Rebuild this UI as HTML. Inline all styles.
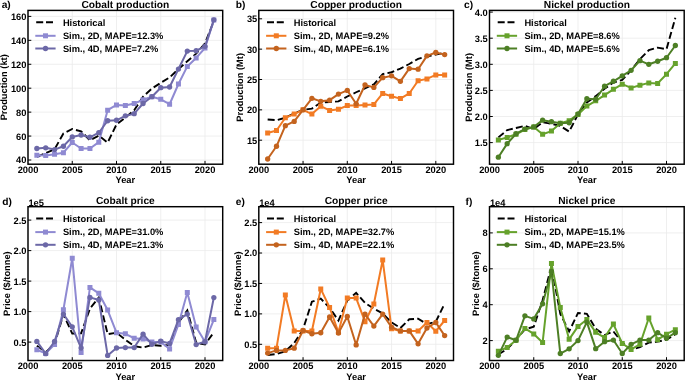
<!DOCTYPE html><html><head><meta charset="utf-8"><style>
html,body{margin:0;padding:0;background:#fff;width:685px;height:380px;overflow:hidden}
svg{display:block;will-change:transform;filter:blur(0.25px)}text{font-family:"Liberation Sans",sans-serif;font-weight:bold;fill:#000;text-rendering:geometricPrecision}
</style></head><body>
<svg width="685" height="380" viewBox="0 0 685 380">
<clipPath id="ca"><rect x="28" y="10.4" width="194.7" height="153.8"/></clipPath>
<path d="M28 10.4V164.2M72.25 10.4V164.2M116.5 10.4V164.2M160.75 10.4V164.2M205 10.4V164.2M28 160H222.7M28 136.07H222.7M28 112.14H222.7M28 88.2H222.7M28 64.27H222.7M28 40.33H222.7M28 16.4H222.7" stroke="#ebebeb" stroke-width="0.8" fill="none"/>
<g clip-path="url(#ca)">
<polyline points="36.85,156.77 45.7,153.06 54.55,149.23 63.4,133.56 72.25,129.01 81.1,131.28 89.95,140.26 98.8,135.71 107.65,142.53 116.5,124.46 125.35,117.52 134.2,110.22 143.05,96.7 151.9,88.56 160.75,82.82 169.6,77.43 178.45,69.05 187.3,61.28 196.15,53.62 205,43.33 213.85,21.19" fill="none" stroke="#000" stroke-width="1.9" stroke-dasharray="7 3.2"/>
<polyline points="36.85,155.22 45.7,155.46 54.55,154.14 63.4,152.7 72.25,142.53 81.1,148.52 89.95,148.52 98.8,142.17 107.65,110.22 116.5,104.96 125.35,105.43 134.2,103.52 143.05,99.81 151.9,96.7 160.75,99.33 169.6,104.24 178.45,84.01 187.3,66.42 196.15,57.93 205,47.99 213.85,19.99" fill="none" stroke="#8f8ad2" stroke-width="2" stroke-linejoin="round"/>
<path d="M34.35 152.72h5v5h-5zM43.2 152.96h5v5h-5zM52.05 151.64h5v5h-5zM60.9 150.2h5v5h-5zM69.75 140.03h5v5h-5zM78.6 146.02h5v5h-5zM87.45 146.02h5v5h-5zM96.3 139.67h5v5h-5zM105.15 107.72h5v5h-5zM114 102.46h5v5h-5zM122.85 102.93h5v5h-5zM131.7 101.02h5v5h-5zM140.55 97.31h5v5h-5zM149.4 94.2h5v5h-5zM158.25 96.83h5v5h-5zM167.1 101.74h5v5h-5zM175.95 81.51h5v5h-5zM184.8 63.92h5v5h-5zM193.65 55.43h5v5h-5zM202.5 45.49h5v5h-5zM211.35 17.49h5v5h-5z" fill="#8f8ad2"/>
<polyline points="36.85,148.52 45.7,147.8 54.55,149.59 63.4,146.24 72.25,136.91 81.1,134.99 89.95,137.27 98.8,132.72 107.65,120.75 116.5,120.27 125.35,115.85 134.2,113.69 143.05,103.52 151.9,96.7 160.75,87.72 169.6,87.01 178.45,69.05 187.3,51.1 196.15,50.75 205,46.32 213.85,19.87" fill="none" stroke="#6c68a7" stroke-width="2" stroke-linejoin="round"/>
<circle cx="36.85" cy="148.52" r="2.65" fill="#6c68a7"/>
<circle cx="45.7" cy="147.8" r="2.65" fill="#6c68a7"/>
<circle cx="54.55" cy="149.59" r="2.65" fill="#6c68a7"/>
<circle cx="63.4" cy="146.24" r="2.65" fill="#6c68a7"/>
<circle cx="72.25" cy="136.91" r="2.65" fill="#6c68a7"/>
<circle cx="81.1" cy="134.99" r="2.65" fill="#6c68a7"/>
<circle cx="89.95" cy="137.27" r="2.65" fill="#6c68a7"/>
<circle cx="98.8" cy="132.72" r="2.65" fill="#6c68a7"/>
<circle cx="107.65" cy="120.75" r="2.65" fill="#6c68a7"/>
<circle cx="116.5" cy="120.27" r="2.65" fill="#6c68a7"/>
<circle cx="125.35" cy="115.85" r="2.65" fill="#6c68a7"/>
<circle cx="134.2" cy="113.69" r="2.65" fill="#6c68a7"/>
<circle cx="143.05" cy="103.52" r="2.65" fill="#6c68a7"/>
<circle cx="151.9" cy="96.7" r="2.65" fill="#6c68a7"/>
<circle cx="160.75" cy="87.72" r="2.65" fill="#6c68a7"/>
<circle cx="169.6" cy="87.01" r="2.65" fill="#6c68a7"/>
<circle cx="178.45" cy="69.05" r="2.65" fill="#6c68a7"/>
<circle cx="187.3" cy="51.1" r="2.65" fill="#6c68a7"/>
<circle cx="196.15" cy="50.75" r="2.65" fill="#6c68a7"/>
<circle cx="205" cy="46.32" r="2.65" fill="#6c68a7"/>
<circle cx="213.85" cy="19.87" r="2.65" fill="#6c68a7"/>
</g>
<path d="M72.25 164.2v-3.3M116.5 164.2v-3.3M160.75 164.2v-3.3M205 164.2v-3.3M28 160h3.3M28 136.07h3.3M28 112.14h3.3M28 88.2h3.3M28 64.27h3.3M28 40.33h3.3M28 16.4h3.3" stroke="#000" stroke-width="1" fill="none"/>
<rect x="28" y="10.4" width="194.7" height="153.8" fill="none" stroke="#000" stroke-width="1.45"/>
<text x="28" y="172.8" font-size="9.3" text-anchor="middle">2000</text>
<text x="72.25" y="172.8" font-size="9.3" text-anchor="middle">2005</text>
<text x="116.5" y="172.8" font-size="9.3" text-anchor="middle">2010</text>
<text x="160.75" y="172.8" font-size="9.3" text-anchor="middle">2015</text>
<text x="205" y="172.8" font-size="9.3" text-anchor="middle">2020</text>
<text x="26.4" y="163.45" font-size="9.3" text-anchor="end">40</text>
<text x="26.4" y="139.52" font-size="9.3" text-anchor="end">60</text>
<text x="26.4" y="115.59" font-size="9.3" text-anchor="end">80</text>
<text x="26.4" y="91.65" font-size="9.3" text-anchor="end">100</text>
<text x="26.4" y="67.72" font-size="9.3" text-anchor="end">120</text>
<text x="26.4" y="43.78" font-size="9.3" text-anchor="end">140</text>
<text x="26.4" y="19.85" font-size="9.3" text-anchor="end">160</text>
<text x="125.35" y="183.4" font-size="9.3" text-anchor="middle">Year</text>
<text transform="translate(6.9 87.3) rotate(-90)" font-size="9.3" text-anchor="middle">Production (kt)</text>
<text x="125.35" y="7.8" font-size="10.2" text-anchor="middle">Cobalt production</text>
<text x="1.7" y="8.3" font-size="10.2">a)</text>
<path d="M36.2 22.3h18.5" stroke="#000" stroke-width="2" stroke-dasharray="7 2.8" fill="none"/>
<path d="M35.3 35.8h20.3" stroke="#8f8ad2" stroke-width="2" fill="none"/>
<rect x="43" y="33.3" width="5" height="5" fill="#8f8ad2"/>
<path d="M35.3 48.5h20.3" stroke="#6c68a7" stroke-width="2" fill="none"/>
<circle cx="45.5" cy="48.5" r="2.65" fill="#6c68a7"/>
<text x="62.9" y="25.8" font-size="9.3">Historical</text>
<text x="62.9" y="38.9" font-size="9.3">Sim., 2D, MAPE=12.3%</text>
<text x="62.9" y="51.7" font-size="9.3">Sim., 4D, MAPE=7.2%</text>
<clipPath id="cb"><rect x="258.8" y="10.4" width="194.7" height="153.8"/></clipPath>
<path d="M258.8 10.4V164.2M303.05 10.4V164.2M347.3 10.4V164.2M391.55 10.4V164.2M435.8 10.4V164.2M258.8 140.2H453.5M258.8 109.85H453.5M258.8 79.5H453.5M258.8 49.15H453.5M258.8 18.8H453.5" stroke="#ebebeb" stroke-width="0.8" fill="none"/>
<g clip-path="url(#cb)">
<polyline points="267.65,119.56 276.5,120.17 285.35,117.74 294.2,113.49 303.05,109.85 311.9,108.64 320.75,102.57 329.6,101.96 338.45,101.35 347.3,96.5 356.15,92.25 365,88.3 373.85,84.36 382.7,74.04 391.55,72.22 400.4,68.57 409.25,64.02 418.1,58.86 426.95,56.43 435.8,54.61 444.65,52.79" fill="none" stroke="#000" stroke-width="1.9" stroke-dasharray="7 3.2"/>
<polyline points="267.65,132.92 276.5,130.49 285.35,117.74 294.2,114.1 303.05,109.85 311.9,114.1 320.75,106.21 329.6,110.46 338.45,109.24 347.3,105.6 356.15,105.6 365,104.99 373.85,104.39 382.7,93.46 391.55,96.19 400.4,98.62 409.25,93.46 418.1,80.71 426.95,78.89 435.8,74.95 444.65,74.95" fill="none" stroke="#f27b24" stroke-width="2" stroke-linejoin="round"/>
<path d="M265.15 130.42h5v5h-5zM274 127.99h5v5h-5zM282.85 115.24h5v5h-5zM291.7 111.6h5v5h-5zM300.55 107.35h5v5h-5zM309.4 111.6h5v5h-5zM318.25 103.71h5v5h-5zM327.1 107.96h5v5h-5zM335.95 106.74h5v5h-5zM344.8 103.1h5v5h-5zM353.65 103.1h5v5h-5zM362.5 102.49h5v5h-5zM371.35 101.89h5v5h-5zM380.2 90.96h5v5h-5zM389.05 93.69h5v5h-5zM397.9 96.12h5v5h-5zM406.75 90.96h5v5h-5zM415.6 78.21h5v5h-5zM424.45 76.39h5v5h-5zM433.3 72.45h5v5h-5zM442.15 72.45h5v5h-5z" fill="#f27b24"/>
<polyline points="267.65,159.02 276.5,146.27 285.35,125.63 294.2,121.38 303.05,109.85 311.9,98.32 320.75,101.35 329.6,100.14 338.45,94.07 347.3,90.43 356.15,103.78 365,84.96 373.85,87.39 382.7,77.68 391.55,75.86 400.4,81.32 409.25,68.57 418.1,69.18 426.95,55.83 435.8,52.49 444.65,54.61" fill="none" stroke="#c4631e" stroke-width="2" stroke-linejoin="round"/>
<circle cx="267.65" cy="159.02" r="2.65" fill="#c4631e"/>
<circle cx="276.5" cy="146.27" r="2.65" fill="#c4631e"/>
<circle cx="285.35" cy="125.63" r="2.65" fill="#c4631e"/>
<circle cx="294.2" cy="121.38" r="2.65" fill="#c4631e"/>
<circle cx="303.05" cy="109.85" r="2.65" fill="#c4631e"/>
<circle cx="311.9" cy="98.32" r="2.65" fill="#c4631e"/>
<circle cx="320.75" cy="101.35" r="2.65" fill="#c4631e"/>
<circle cx="329.6" cy="100.14" r="2.65" fill="#c4631e"/>
<circle cx="338.45" cy="94.07" r="2.65" fill="#c4631e"/>
<circle cx="347.3" cy="90.43" r="2.65" fill="#c4631e"/>
<circle cx="356.15" cy="103.78" r="2.65" fill="#c4631e"/>
<circle cx="365" cy="84.96" r="2.65" fill="#c4631e"/>
<circle cx="373.85" cy="87.39" r="2.65" fill="#c4631e"/>
<circle cx="382.7" cy="77.68" r="2.65" fill="#c4631e"/>
<circle cx="391.55" cy="75.86" r="2.65" fill="#c4631e"/>
<circle cx="400.4" cy="81.32" r="2.65" fill="#c4631e"/>
<circle cx="409.25" cy="68.57" r="2.65" fill="#c4631e"/>
<circle cx="418.1" cy="69.18" r="2.65" fill="#c4631e"/>
<circle cx="426.95" cy="55.83" r="2.65" fill="#c4631e"/>
<circle cx="435.8" cy="52.49" r="2.65" fill="#c4631e"/>
<circle cx="444.65" cy="54.61" r="2.65" fill="#c4631e"/>
</g>
<path d="M303.05 164.2v-3.3M347.3 164.2v-3.3M391.55 164.2v-3.3M435.8 164.2v-3.3M258.8 140.2h3.3M258.8 109.85h3.3M258.8 79.5h3.3M258.8 49.15h3.3M258.8 18.8h3.3" stroke="#000" stroke-width="1" fill="none"/>
<rect x="258.8" y="10.4" width="194.7" height="153.8" fill="none" stroke="#000" stroke-width="1.45"/>
<text x="258.8" y="172.8" font-size="9.3" text-anchor="middle">2000</text>
<text x="303.05" y="172.8" font-size="9.3" text-anchor="middle">2005</text>
<text x="347.3" y="172.8" font-size="9.3" text-anchor="middle">2010</text>
<text x="391.55" y="172.8" font-size="9.3" text-anchor="middle">2015</text>
<text x="435.8" y="172.8" font-size="9.3" text-anchor="middle">2020</text>
<text x="257.3" y="143.65" font-size="9.3" text-anchor="end">15</text>
<text x="257.3" y="113.3" font-size="9.3" text-anchor="end">20</text>
<text x="257.3" y="82.95" font-size="9.3" text-anchor="end">25</text>
<text x="257.3" y="52.6" font-size="9.3" text-anchor="end">30</text>
<text x="257.3" y="22.25" font-size="9.3" text-anchor="end">35</text>
<text x="356.15" y="183.4" font-size="9.3" text-anchor="middle">Year</text>
<text transform="translate(242.7 87.3) rotate(-90)" font-size="9.3" text-anchor="middle">Production (Mt)</text>
<text x="356.15" y="7.8" font-size="10.2" text-anchor="middle">Copper production</text>
<text x="235.8" y="8.3" font-size="10.2">b)</text>
<path d="M267 22.3h18.5" stroke="#000" stroke-width="2" stroke-dasharray="7 2.8" fill="none"/>
<path d="M266.1 35.8h20.3" stroke="#f27b24" stroke-width="2" fill="none"/>
<rect x="273.8" y="33.3" width="5" height="5" fill="#f27b24"/>
<path d="M266.1 48.5h20.3" stroke="#c4631e" stroke-width="2" fill="none"/>
<circle cx="276.3" cy="48.5" r="2.65" fill="#c4631e"/>
<text x="293.7" y="25.8" font-size="9.3">Historical</text>
<text x="293.7" y="38.9" font-size="9.3">Sim., 2D, MAPE=9.2%</text>
<text x="293.7" y="51.7" font-size="9.3">Sim., 4D, MAPE=6.1%</text>
<clipPath id="cc"><rect x="489.5" y="10.4" width="194.7" height="153.8"/></clipPath>
<path d="M489.5 10.4V164.2M533.75 10.4V164.2M578 10.4V164.2M622.25 10.4V164.2M666.5 10.4V164.2M489.5 142.6H684.2M489.5 116.5H684.2M489.5 90.4H684.2M489.5 64.3H684.2M489.5 38.2H684.2M489.5 12.1H684.2" stroke="#ebebeb" stroke-width="0.8" fill="none"/>
<g clip-path="url(#cc)">
<polyline points="498.35,137.38 507.2,130.07 516.05,127.98 524.9,125.9 533.75,129.03 542.6,122.24 551.45,123.81 560.3,125.9 569.15,131.64 578,114.41 586.85,102.41 595.7,96.14 604.55,88.83 613.4,82.57 622.25,79.96 631.1,70.25 639.95,59.08 648.8,50.21 657.65,47.6 666.5,49.16 675.35,17.84" fill="none" stroke="#000" stroke-width="1.9" stroke-dasharray="7 3.2"/>
<polyline points="498.35,139.99 507.2,137.38 516.05,134.25 524.9,129.55 533.75,126.94 542.6,134.25 551.45,131.12 560.3,123.29 569.15,120.68 578,114.41 586.85,106.06 595.7,100.84 604.55,95.1 613.4,89.36 622.25,84.14 631.1,87.89 639.95,85.18 648.8,82.88 657.65,83.41 666.5,74.22 675.35,63.41" fill="none" stroke="#66a22c" stroke-width="2" stroke-linejoin="round"/>
<path d="M495.85 137.49h5v5h-5zM504.7 134.88h5v5h-5zM513.55 131.75h5v5h-5zM522.4 127.05h5v5h-5zM531.25 124.44h5v5h-5zM540.1 131.75h5v5h-5zM548.95 128.62h5v5h-5zM557.8 120.79h5v5h-5zM566.65 118.18h5v5h-5zM575.5 111.91h5v5h-5zM584.35 103.56h5v5h-5zM593.2 98.34h5v5h-5zM602.05 92.6h5v5h-5zM610.9 86.86h5v5h-5zM619.75 81.64h5v5h-5zM628.6 85.39h5v5h-5zM637.45 82.68h5v5h-5zM646.3 80.38h5v5h-5zM655.15 80.91h5v5h-5zM664 71.72h5v5h-5zM672.85 60.91h5v5h-5z" fill="#66a22c"/>
<polyline points="498.35,157.22 507.2,143.64 516.05,133.73 524.9,129.03 533.75,126.94 542.6,120.15 551.45,121.72 560.3,123.29 569.15,122.76 578,113.89 586.85,98.75 595.7,99.27 604.55,86.22 613.4,81.27 622.25,75.94 631.1,70.3 639.95,60.65 648.8,64.3 657.65,61.27 666.5,57.72 675.35,45.51" fill="none" stroke="#4d7f25" stroke-width="2" stroke-linejoin="round"/>
<circle cx="498.35" cy="157.22" r="2.65" fill="#4d7f25"/>
<circle cx="507.2" cy="143.64" r="2.65" fill="#4d7f25"/>
<circle cx="516.05" cy="133.73" r="2.65" fill="#4d7f25"/>
<circle cx="524.9" cy="129.03" r="2.65" fill="#4d7f25"/>
<circle cx="533.75" cy="126.94" r="2.65" fill="#4d7f25"/>
<circle cx="542.6" cy="120.15" r="2.65" fill="#4d7f25"/>
<circle cx="551.45" cy="121.72" r="2.65" fill="#4d7f25"/>
<circle cx="560.3" cy="123.29" r="2.65" fill="#4d7f25"/>
<circle cx="569.15" cy="122.76" r="2.65" fill="#4d7f25"/>
<circle cx="578" cy="113.89" r="2.65" fill="#4d7f25"/>
<circle cx="586.85" cy="98.75" r="2.65" fill="#4d7f25"/>
<circle cx="595.7" cy="99.27" r="2.65" fill="#4d7f25"/>
<circle cx="604.55" cy="86.22" r="2.65" fill="#4d7f25"/>
<circle cx="613.4" cy="81.27" r="2.65" fill="#4d7f25"/>
<circle cx="622.25" cy="75.94" r="2.65" fill="#4d7f25"/>
<circle cx="631.1" cy="70.3" r="2.65" fill="#4d7f25"/>
<circle cx="639.95" cy="60.65" r="2.65" fill="#4d7f25"/>
<circle cx="648.8" cy="64.3" r="2.65" fill="#4d7f25"/>
<circle cx="657.65" cy="61.27" r="2.65" fill="#4d7f25"/>
<circle cx="666.5" cy="57.72" r="2.65" fill="#4d7f25"/>
<circle cx="675.35" cy="45.51" r="2.65" fill="#4d7f25"/>
</g>
<path d="M533.75 164.2v-3.3M578 164.2v-3.3M622.25 164.2v-3.3M666.5 164.2v-3.3M489.5 142.6h3.3M489.5 116.5h3.3M489.5 90.4h3.3M489.5 64.3h3.3M489.5 38.2h3.3M489.5 12.1h3.3" stroke="#000" stroke-width="1" fill="none"/>
<rect x="489.5" y="10.4" width="194.7" height="153.8" fill="none" stroke="#000" stroke-width="1.45"/>
<text x="489.5" y="172.8" font-size="9.3" text-anchor="middle">2000</text>
<text x="533.75" y="172.8" font-size="9.3" text-anchor="middle">2005</text>
<text x="578" y="172.8" font-size="9.3" text-anchor="middle">2010</text>
<text x="622.25" y="172.8" font-size="9.3" text-anchor="middle">2015</text>
<text x="666.5" y="172.8" font-size="9.3" text-anchor="middle">2020</text>
<text x="487.7" y="146.05" font-size="9.3" text-anchor="end">1.5</text>
<text x="487.7" y="119.95" font-size="9.3" text-anchor="end">2.0</text>
<text x="487.7" y="93.85" font-size="9.3" text-anchor="end">2.5</text>
<text x="487.7" y="67.75" font-size="9.3" text-anchor="end">3.0</text>
<text x="487.7" y="41.65" font-size="9.3" text-anchor="end">3.5</text>
<text x="487.7" y="15.55" font-size="9.3" text-anchor="end">4.0</text>
<text x="586.85" y="183.4" font-size="9.3" text-anchor="middle">Year</text>
<text transform="translate(471.5 87.3) rotate(-90)" font-size="9.3" text-anchor="middle">Production (Mt)</text>
<text x="586.85" y="7.8" font-size="10.2" text-anchor="middle">Nickel production</text>
<text x="464" y="8.3" font-size="10.2">c)</text>
<path d="M497.7 22.3h18.5" stroke="#000" stroke-width="2" stroke-dasharray="7 2.8" fill="none"/>
<path d="M496.8 35.8h20.3" stroke="#66a22c" stroke-width="2" fill="none"/>
<rect x="504.5" y="33.3" width="5" height="5" fill="#66a22c"/>
<path d="M496.8 48.5h20.3" stroke="#4d7f25" stroke-width="2" fill="none"/>
<circle cx="507" cy="48.5" r="2.65" fill="#4d7f25"/>
<text x="524.4" y="25.8" font-size="9.3">Historical</text>
<text x="524.4" y="38.9" font-size="9.3">Sim., 2D, MAPE=8.6%</text>
<text x="524.4" y="51.7" font-size="9.3">Sim., 4D, MAPE=5.6%</text>
<clipPath id="cd"><rect x="28" y="206.7" width="194.7" height="153.8"/></clipPath>
<path d="M28 206.7V360.5M72.25 206.7V360.5M116.5 206.7V360.5M160.75 206.7V360.5M205 206.7V360.5M28 342.1H222.7M28 311.6H222.7M28 281.1H222.7M28 250.6H222.7M28 220.1H222.7" stroke="#ebebeb" stroke-width="0.8" fill="none"/>
<g clip-path="url(#cd)">
<polyline points="36.85,345.76 45.7,352.1 54.55,344.24 63.4,314.22 72.25,333.56 81.1,333.25 89.95,308.55 98.8,297.57 107.65,334.17 116.5,332.71 125.35,339.66 134.2,346.19 143.05,347.59 151.9,345.03 160.75,345.76 169.6,345.03 178.45,322.58 187.3,310.38 196.15,342.59 205,344.54 213.85,332.34" fill="none" stroke="#000" stroke-width="1.9" stroke-dasharray="7 3.2"/>
<polyline points="36.85,349.79 45.7,353.38 54.55,344.54 63.4,309.77 72.25,258.29 81.1,352.47 89.95,287.38 98.8,293.3 107.65,310.07 116.5,332.71 125.35,333.8 134.2,338.26 143.05,339.05 151.9,341.92 160.75,341.92 169.6,348.99 178.45,324.41 187.3,292.51 196.15,327.03 205,341.67 213.85,319.59" fill="none" stroke="#8f8ad2" stroke-width="2" stroke-linejoin="round"/>
<path d="M34.35 347.29h5v5h-5zM43.2 350.88h5v5h-5zM52.05 342.04h5v5h-5zM60.9 307.27h5v5h-5zM69.75 255.79h5v5h-5zM78.6 349.97h5v5h-5zM87.45 284.88h5v5h-5zM96.3 290.8h5v5h-5zM105.15 307.57h5v5h-5zM114 330.21h5v5h-5zM122.85 331.3h5v5h-5zM131.7 335.76h5v5h-5zM140.55 336.55h5v5h-5zM149.4 339.42h5v5h-5zM158.25 339.42h5v5h-5zM167.1 346.49h5v5h-5zM175.95 321.91h5v5h-5zM184.8 290.01h5v5h-5zM193.65 324.53h5v5h-5zM202.5 339.17h5v5h-5zM211.35 317.09h5v5h-5z" fill="#8f8ad2"/>
<polyline points="36.85,341.43 45.7,353.69 54.55,341.49 63.4,314.04 72.25,326.85 81.1,348.02 89.95,297.39 98.8,300.01 107.65,355.4 116.5,348.02 125.35,347.53 134.2,347.53 143.05,334.17 151.9,344.24 160.75,341.12 169.6,343.44 178.45,319.65 187.3,314.1 196.15,344.54 205,341.67 213.85,297.57" fill="none" stroke="#6c68a7" stroke-width="2" stroke-linejoin="round"/>
<circle cx="36.85" cy="341.43" r="2.65" fill="#6c68a7"/>
<circle cx="45.7" cy="353.69" r="2.65" fill="#6c68a7"/>
<circle cx="54.55" cy="341.49" r="2.65" fill="#6c68a7"/>
<circle cx="63.4" cy="314.04" r="2.65" fill="#6c68a7"/>
<circle cx="72.25" cy="326.85" r="2.65" fill="#6c68a7"/>
<circle cx="81.1" cy="348.02" r="2.65" fill="#6c68a7"/>
<circle cx="89.95" cy="297.39" r="2.65" fill="#6c68a7"/>
<circle cx="98.8" cy="300.01" r="2.65" fill="#6c68a7"/>
<circle cx="107.65" cy="355.4" r="2.65" fill="#6c68a7"/>
<circle cx="116.5" cy="348.02" r="2.65" fill="#6c68a7"/>
<circle cx="125.35" cy="347.53" r="2.65" fill="#6c68a7"/>
<circle cx="134.2" cy="347.53" r="2.65" fill="#6c68a7"/>
<circle cx="143.05" cy="334.17" r="2.65" fill="#6c68a7"/>
<circle cx="151.9" cy="344.24" r="2.65" fill="#6c68a7"/>
<circle cx="160.75" cy="341.12" r="2.65" fill="#6c68a7"/>
<circle cx="169.6" cy="343.44" r="2.65" fill="#6c68a7"/>
<circle cx="178.45" cy="319.65" r="2.65" fill="#6c68a7"/>
<circle cx="187.3" cy="314.1" r="2.65" fill="#6c68a7"/>
<circle cx="196.15" cy="344.54" r="2.65" fill="#6c68a7"/>
<circle cx="205" cy="341.67" r="2.65" fill="#6c68a7"/>
<circle cx="213.85" cy="297.57" r="2.65" fill="#6c68a7"/>
</g>
<path d="M72.25 360.5v-3.3M116.5 360.5v-3.3M160.75 360.5v-3.3M205 360.5v-3.3M28 342.1h3.3M28 311.6h3.3M28 281.1h3.3M28 250.6h3.3M28 220.1h3.3" stroke="#000" stroke-width="1" fill="none"/>
<rect x="28" y="206.7" width="194.7" height="153.8" fill="none" stroke="#000" stroke-width="1.45"/>
<text x="28" y="369.1" font-size="9.3" text-anchor="middle">2000</text>
<text x="72.25" y="369.1" font-size="9.3" text-anchor="middle">2005</text>
<text x="116.5" y="369.1" font-size="9.3" text-anchor="middle">2010</text>
<text x="160.75" y="369.1" font-size="9.3" text-anchor="middle">2015</text>
<text x="205" y="369.1" font-size="9.3" text-anchor="middle">2020</text>
<text x="26.5" y="345.55" font-size="9.3" text-anchor="end">0.5</text>
<text x="26.5" y="315.05" font-size="9.3" text-anchor="end">1.0</text>
<text x="26.5" y="284.55" font-size="9.3" text-anchor="end">1.5</text>
<text x="26.5" y="254.05" font-size="9.3" text-anchor="end">2.0</text>
<text x="26.5" y="223.55" font-size="9.3" text-anchor="end">2.5</text>
<text x="125.35" y="379.7" font-size="9.3" text-anchor="middle">Year</text>
<text transform="translate(9.9 283.6) rotate(-90)" font-size="9.3" text-anchor="middle">Price (&#36;/tonne)</text>
<text x="125.35" y="204.1" font-size="10.2" text-anchor="middle">Cobalt price</text>
<text x="2.2" y="204.6" font-size="10.2">d)</text>
<text x="28.4" y="205.7" font-size="9.3">1e5</text>
<path d="M36.2 218.6h18.5" stroke="#000" stroke-width="2" stroke-dasharray="7 2.8" fill="none"/>
<path d="M35.3 232.1h20.3" stroke="#8f8ad2" stroke-width="2" fill="none"/>
<rect x="43" y="229.6" width="5" height="5" fill="#8f8ad2"/>
<path d="M35.3 244.8h20.3" stroke="#6c68a7" stroke-width="2" fill="none"/>
<circle cx="45.5" cy="244.8" r="2.65" fill="#6c68a7"/>
<text x="62.9" y="222.1" font-size="9.3">Historical</text>
<text x="62.9" y="235.2" font-size="9.3">Sim., 2D, MAPE=31.0%</text>
<text x="62.9" y="248" font-size="9.3">Sim., 4D, MAPE=21.3%</text>
<clipPath id="ce"><rect x="258.8" y="206.7" width="194.7" height="153.8"/></clipPath>
<path d="M258.8 206.7V360.5M303.05 206.7V360.5M347.3 206.7V360.5M391.55 206.7V360.5M435.8 206.7V360.5M258.8 344.3H453.5M258.8 313.88H453.5M258.8 283.45H453.5M258.8 253.03H453.5M258.8 222.6H453.5" stroke="#ebebeb" stroke-width="0.8" fill="none"/>
<g clip-path="url(#ce)">
<polyline points="267.65,355.01 276.5,354.1 285.35,351.3 294.2,343.08 303.05,329.21 311.9,301.7 320.75,298.66 329.6,307.79 338.45,320.57 347.3,300.49 356.15,292.82 365,302.92 373.85,308.7 382.7,313.39 391.55,322.39 400.4,327.99 409.25,319.29 418.1,318.62 426.95,324.1 435.8,321.72 444.65,303.53" fill="none" stroke="#000" stroke-width="1.9" stroke-dasharray="7 3.2"/>
<polyline points="267.65,348.19 276.5,348.19 285.35,295.01 294.2,331.03 303.05,331.03 311.9,331.03 320.75,288.93 329.6,307.49 338.45,332.37 347.3,298.05 356.15,298.05 365,321.72 373.85,304.02 382.7,260.02 391.55,328.78 400.4,330.91 409.25,330.91 418.1,330.91 426.95,322.52 435.8,331.22 444.65,320.51" fill="none" stroke="#f27b24" stroke-width="2" stroke-linejoin="round"/>
<path d="M265.15 345.69h5v5h-5zM274 345.69h5v5h-5zM282.85 292.51h5v5h-5zM291.7 328.53h5v5h-5zM300.55 328.53h5v5h-5zM309.4 328.53h5v5h-5zM318.25 286.43h5v5h-5zM327.1 304.99h5v5h-5zM335.95 329.87h5v5h-5zM344.8 295.55h5v5h-5zM353.65 295.55h5v5h-5zM362.5 319.22h5v5h-5zM371.35 301.52h5v5h-5zM380.2 257.52h5v5h-5zM389.05 326.28h5v5h-5zM397.9 328.41h5v5h-5zM406.75 328.41h5v5h-5zM415.6 328.41h5v5h-5zM424.45 320.02h5v5h-5zM433.3 328.72h5v5h-5zM442.15 318.01h5v5h-5z" fill="#f27b24"/>
<polyline points="267.65,353.12 276.5,350.38 285.35,350.38 294.2,348.19 303.05,330.49 311.9,333.77 320.75,332.74 329.6,316.92 338.45,333.1 347.3,316.49 356.15,344.97 365,314.12 373.85,326.04 382.7,314.12 391.55,327.2 400.4,330.91 409.25,330.91 418.1,343.81 426.95,327.99 435.8,322.52 444.65,335.6" fill="none" stroke="#c4631e" stroke-width="2" stroke-linejoin="round"/>
<circle cx="267.65" cy="353.12" r="2.65" fill="#c4631e"/>
<circle cx="276.5" cy="350.38" r="2.65" fill="#c4631e"/>
<circle cx="285.35" cy="350.38" r="2.65" fill="#c4631e"/>
<circle cx="294.2" cy="348.19" r="2.65" fill="#c4631e"/>
<circle cx="303.05" cy="330.49" r="2.65" fill="#c4631e"/>
<circle cx="311.9" cy="333.77" r="2.65" fill="#c4631e"/>
<circle cx="320.75" cy="332.74" r="2.65" fill="#c4631e"/>
<circle cx="329.6" cy="316.92" r="2.65" fill="#c4631e"/>
<circle cx="338.45" cy="333.1" r="2.65" fill="#c4631e"/>
<circle cx="347.3" cy="316.49" r="2.65" fill="#c4631e"/>
<circle cx="356.15" cy="344.97" r="2.65" fill="#c4631e"/>
<circle cx="365" cy="314.12" r="2.65" fill="#c4631e"/>
<circle cx="373.85" cy="326.04" r="2.65" fill="#c4631e"/>
<circle cx="382.7" cy="314.12" r="2.65" fill="#c4631e"/>
<circle cx="391.55" cy="327.2" r="2.65" fill="#c4631e"/>
<circle cx="400.4" cy="330.91" r="2.65" fill="#c4631e"/>
<circle cx="409.25" cy="330.91" r="2.65" fill="#c4631e"/>
<circle cx="418.1" cy="343.81" r="2.65" fill="#c4631e"/>
<circle cx="426.95" cy="327.99" r="2.65" fill="#c4631e"/>
<circle cx="435.8" cy="322.52" r="2.65" fill="#c4631e"/>
<circle cx="444.65" cy="335.6" r="2.65" fill="#c4631e"/>
</g>
<path d="M303.05 360.5v-3.3M347.3 360.5v-3.3M391.55 360.5v-3.3M435.8 360.5v-3.3M258.8 344.3h3.3M258.8 313.88h3.3M258.8 283.45h3.3M258.8 253.03h3.3M258.8 222.6h3.3" stroke="#000" stroke-width="1" fill="none"/>
<rect x="258.8" y="206.7" width="194.7" height="153.8" fill="none" stroke="#000" stroke-width="1.45"/>
<text x="258.8" y="369.1" font-size="9.3" text-anchor="middle">2000</text>
<text x="303.05" y="369.1" font-size="9.3" text-anchor="middle">2005</text>
<text x="347.3" y="369.1" font-size="9.3" text-anchor="middle">2010</text>
<text x="391.55" y="369.1" font-size="9.3" text-anchor="middle">2015</text>
<text x="435.8" y="369.1" font-size="9.3" text-anchor="middle">2020</text>
<text x="257.3" y="347.75" font-size="9.3" text-anchor="end">0.5</text>
<text x="257.3" y="317.32" font-size="9.3" text-anchor="end">1.0</text>
<text x="257.3" y="286.9" font-size="9.3" text-anchor="end">1.5</text>
<text x="257.3" y="256.48" font-size="9.3" text-anchor="end">2.0</text>
<text x="257.3" y="226.05" font-size="9.3" text-anchor="end">2.5</text>
<text x="356.15" y="379.7" font-size="9.3" text-anchor="middle">Year</text>
<text transform="translate(240.6 283.6) rotate(-90)" font-size="9.3" text-anchor="middle">Price (&#36;/tonne)</text>
<text x="356.15" y="204.1" font-size="10.2" text-anchor="middle">Copper price</text>
<text x="235.8" y="204.6" font-size="10.2">e)</text>
<text x="259.2" y="205.7" font-size="9.3">1e4</text>
<path d="M267 218.6h18.5" stroke="#000" stroke-width="2" stroke-dasharray="7 2.8" fill="none"/>
<path d="M266.1 232.1h20.3" stroke="#f27b24" stroke-width="2" fill="none"/>
<rect x="273.8" y="229.6" width="5" height="5" fill="#f27b24"/>
<path d="M266.1 244.8h20.3" stroke="#c4631e" stroke-width="2" fill="none"/>
<circle cx="276.3" cy="244.8" r="2.65" fill="#c4631e"/>
<text x="293.7" y="222.1" font-size="9.3">Historical</text>
<text x="293.7" y="235.2" font-size="9.3">Sim., 2D, MAPE=32.7%</text>
<text x="293.7" y="248" font-size="9.3">Sim., 4D, MAPE=22.1%</text>
<clipPath id="cf"><rect x="489.5" y="206.7" width="194.7" height="153.8"/></clipPath>
<path d="M489.5 206.7V360.5M533.75 206.7V360.5M578 206.7V360.5M622.25 206.7V360.5M666.5 206.7V360.5M489.5 340.6H684.2M489.5 304.7H684.2M489.5 268.8H684.2M489.5 232.9H684.2" stroke="#ebebeb" stroke-width="0.8" fill="none"/>
<g clip-path="url(#cf)">
<polyline points="498.35,354.42 507.2,349.04 516.05,339.52 524.9,329.29 533.75,326.78 542.6,300.21 551.45,266.11 560.3,313.85 569.15,331.45 578,312.96 586.85,313.85 595.7,328.75 604.55,335.04 613.4,331.45 622.25,342.57 631.1,349.93 639.95,347.06 648.8,342.57 657.65,341.68 666.5,339.7 675.35,334.14" fill="none" stroke="#000" stroke-width="1.9" stroke-dasharray="7 3.2"/>
<polyline points="498.35,351.37 507.2,347.42 516.05,340.24 524.9,328.39 533.75,333.96 542.6,342.57 551.45,263.42 560.3,307.57 569.15,339.34 578,326.42 586.85,319.42 595.7,332.34 604.55,337.55 613.4,324.09 622.25,343.47 631.1,349.4 639.95,344.37 648.8,317.98 657.65,339.7 666.5,334.14 675.35,329.65" fill="none" stroke="#66a22c" stroke-width="2" stroke-linejoin="round"/>
<path d="M495.85 348.87h5v5h-5zM504.7 344.92h5v5h-5zM513.55 337.74h5v5h-5zM522.4 325.89h5v5h-5zM531.25 331.46h5v5h-5zM540.1 340.07h5v5h-5zM548.95 260.92h5v5h-5zM557.8 305.07h5v5h-5zM566.65 336.84h5v5h-5zM575.5 323.92h5v5h-5zM584.35 316.92h5v5h-5zM593.2 329.84h5v5h-5zM602.05 335.05h5v5h-5zM610.9 321.59h5v5h-5zM619.75 340.97h5v5h-5zM628.6 346.9h5v5h-5zM637.45 341.87h5v5h-5zM646.3 315.48h5v5h-5zM655.15 337.2h5v5h-5zM664 331.64h5v5h-5zM672.85 327.15h5v5h-5z" fill="#66a22c"/>
<polyline points="498.35,355.32 507.2,337.1 516.05,340.24 524.9,315.83 533.75,318.88 542.6,303.8 551.45,271.49 560.3,353.52 569.15,348.86 578,340.6 586.85,322.11 595.7,348.68 604.55,341.68 613.4,340.06 622.25,353.52 631.1,344.37 639.95,340.06 648.8,340.06 657.65,332.7 666.5,338.27 675.35,332.7" fill="none" stroke="#4d7f25" stroke-width="2" stroke-linejoin="round"/>
<circle cx="498.35" cy="355.32" r="2.65" fill="#4d7f25"/>
<circle cx="507.2" cy="337.1" r="2.65" fill="#4d7f25"/>
<circle cx="516.05" cy="340.24" r="2.65" fill="#4d7f25"/>
<circle cx="524.9" cy="315.83" r="2.65" fill="#4d7f25"/>
<circle cx="533.75" cy="318.88" r="2.65" fill="#4d7f25"/>
<circle cx="542.6" cy="303.8" r="2.65" fill="#4d7f25"/>
<circle cx="551.45" cy="271.49" r="2.65" fill="#4d7f25"/>
<circle cx="560.3" cy="353.52" r="2.65" fill="#4d7f25"/>
<circle cx="569.15" cy="348.86" r="2.65" fill="#4d7f25"/>
<circle cx="578" cy="340.6" r="2.65" fill="#4d7f25"/>
<circle cx="586.85" cy="322.11" r="2.65" fill="#4d7f25"/>
<circle cx="595.7" cy="348.68" r="2.65" fill="#4d7f25"/>
<circle cx="604.55" cy="341.68" r="2.65" fill="#4d7f25"/>
<circle cx="613.4" cy="340.06" r="2.65" fill="#4d7f25"/>
<circle cx="622.25" cy="353.52" r="2.65" fill="#4d7f25"/>
<circle cx="631.1" cy="344.37" r="2.65" fill="#4d7f25"/>
<circle cx="639.95" cy="340.06" r="2.65" fill="#4d7f25"/>
<circle cx="648.8" cy="340.06" r="2.65" fill="#4d7f25"/>
<circle cx="657.65" cy="332.7" r="2.65" fill="#4d7f25"/>
<circle cx="666.5" cy="338.27" r="2.65" fill="#4d7f25"/>
<circle cx="675.35" cy="332.7" r="2.65" fill="#4d7f25"/>
</g>
<path d="M533.75 360.5v-3.3M578 360.5v-3.3M622.25 360.5v-3.3M666.5 360.5v-3.3M489.5 340.6h3.3M489.5 304.7h3.3M489.5 268.8h3.3M489.5 232.9h3.3" stroke="#000" stroke-width="1" fill="none"/>
<rect x="489.5" y="206.7" width="194.7" height="153.8" fill="none" stroke="#000" stroke-width="1.45"/>
<text x="489.5" y="369.1" font-size="9.3" text-anchor="middle">2000</text>
<text x="533.75" y="369.1" font-size="9.3" text-anchor="middle">2005</text>
<text x="578" y="369.1" font-size="9.3" text-anchor="middle">2010</text>
<text x="622.25" y="369.1" font-size="9.3" text-anchor="middle">2015</text>
<text x="666.5" y="369.1" font-size="9.3" text-anchor="middle">2020</text>
<text x="487.7" y="344.05" font-size="9.3" text-anchor="end">2</text>
<text x="487.7" y="308.15" font-size="9.3" text-anchor="end">4</text>
<text x="487.7" y="272.25" font-size="9.3" text-anchor="end">6</text>
<text x="487.7" y="236.35" font-size="9.3" text-anchor="end">8</text>
<text x="586.85" y="379.7" font-size="9.3" text-anchor="middle">Year</text>
<text transform="translate(479.2 283.6) rotate(-90)" font-size="9.3" text-anchor="middle">Price (&#36;/tonne)</text>
<text x="586.85" y="204.1" font-size="10.2" text-anchor="middle">Nickel price</text>
<text x="465.5" y="204.6" font-size="10.2">f)</text>
<text x="489.9" y="205.7" font-size="9.3">1e4</text>
<path d="M497.7 218.6h18.5" stroke="#000" stroke-width="2" stroke-dasharray="7 2.8" fill="none"/>
<path d="M496.8 232.1h20.3" stroke="#66a22c" stroke-width="2" fill="none"/>
<rect x="504.5" y="229.6" width="5" height="5" fill="#66a22c"/>
<path d="M496.8 244.8h20.3" stroke="#4d7f25" stroke-width="2" fill="none"/>
<circle cx="507" cy="244.8" r="2.65" fill="#4d7f25"/>
<text x="524.4" y="222.1" font-size="9.3">Historical</text>
<text x="524.4" y="235.2" font-size="9.3">Sim., 2D, MAPE=15.1%</text>
<text x="524.4" y="248" font-size="9.3">Sim., 4D, MAPE=23.5%</text>
</svg></body></html>
